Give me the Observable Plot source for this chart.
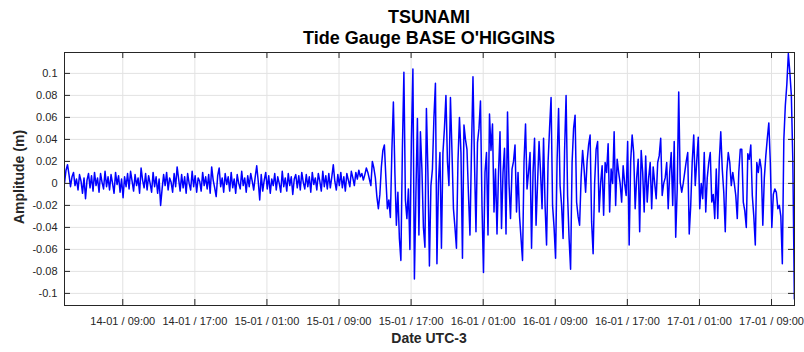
<!DOCTYPE html>
<html><head><meta charset="utf-8">
<script src="https://cdn.jsdelivr.net/npm/d3@7"></script>
<script src="https://cdn.jsdelivr.net/npm/@observablehq/plot@0.6"></script>
<style>
html,body{margin:0;padding:0;background:#fff;}
#wrap{position:relative;width:804px;height:352px;font-family:"Liberation Sans",Arial,sans-serif;color:#000;overflow:hidden;}
#wrap svg{position:absolute;left:0;top:0;}
.t{position:absolute;left:64px;width:730px;text-align:center;font-weight:bold;font-size:18px;line-height:18px;white-space:nowrap;color:#000;}
#ylab{position:absolute;left:19px;top:177px;transform:translate(-50%,-50%) rotate(-90deg);font-weight:bold;font-size:14px;line-height:14px;white-space:nowrap;color:#262626;}
#xlab{position:absolute;left:64px;width:730px;top:331px;text-align:center;font-weight:bold;font-size:14px;line-height:14px;white-space:nowrap;color:#262626;}
</style></head>
<body>
<div id="wrap">
  <div class="t" id="t1" style="top:8px"></div>
  <div class="t" id="t2" style="top:29px"></div>
  <div id="ylab"></div>
  <div id="xlab"></div>
</div>
<script>
// ---- texts ----
const titleLines = ["TSUNAMI", "Tide Gauge BASE O'HIGGINS"];
const yLabel = "Amplitude (m)";
const xLabel = "Date UTC-3";

// ---- time base (UTC-3 local clock, stored as UTC) ----
const startTime = "2022-01-14T02:32:00Z";
const stepMinutes = 10;
const xDomain = ["2022-01-14T02:32:00Z", "2022-01-17T11:33:00Z"];

// ---- tick values ----
const xTickTimes = ["2022-01-14T09:00:00Z","2022-01-14T17:00:00Z","2022-01-15T01:00:00Z","2022-01-15T09:00:00Z","2022-01-15T17:00:00Z","2022-01-16T01:00:00Z","2022-01-16T09:00:00Z","2022-01-16T17:00:00Z","2022-01-17T01:00:00Z","2022-01-17T09:00:00Z"];
const xTickLabels = ["14-01 / 09:00","14-01 / 17:00","15-01 / 01:00","15-01 / 09:00","15-01 / 17:00","16-01 / 01:00","16-01 / 09:00","16-01 / 17:00","17-01 / 01:00","17-01 / 09:00"];
const yTicks = [-0.1,-0.08,-0.06,-0.04,-0.02,0,0.02,0.04,0.06,0.08,0.1];
const yTickLabels = ["-0.1","-0.08","-0.06","-0.04","-0.02","0","0.02","0.04","0.06","0.08","0.1"];
const yDomain = [-0.111, 0.119];

// ---- sea level amplitude, millimetres, one value every 10 minutes ----
const levelMm = [
  0, 12, 17, 8, -3, 6, 10, -2, 4, -6,
  8, 2, -9, 5, -14, 3, 9, -4, 7, -7,
  10, -2, 5, -8, 9, 1, -5, 11, -3, 6,
  -6, 8, 0, -9, 10, -1, 7, -8, 4, -13,
  6, -3, 9, -5, 11, 2, -7, 8, -2, 5,
  -9, 14, 3, -4, 9, -6, 7, 0, -8, 10,
  -3, 6, -9, 4, -20, -5, 8, -2, 10, -6,
  5, 1, -8, 9, -3, 15, 4, -7, 8, -4,
  6, -9, 9, 0, -6, 11, -3, 7, -8, 5,
  2, -7, 10, -2, 6, -5, 8, -9, 15, 3,
  -4, -12, 7, 14, -3, 5, -8, 9, -1, 6,
  -7, 10, -4, 4, -9, 8, 0, -5, 11, -2,
  5, -8, 7, -3, 9, 2, -6, 6, 16, 2,
  -15, 8, -7, 3, 10, -5, 7, -9, 4, -2,
  9, -6, 6, 0, -8, 11, -3, 5, -7, 9,
  -2, 6, -10, 4, 8, -4, 7, -6, 10, 1,
  -5, 8, -3, 6, -8, 10, -1, 5, -6, 9,
  2, -7, 11, -3, 7, -5, 9, -4, 6, 17,
  2, -6, 8, -2, 10, -4, 6, -7, 9, 3,
  -3, 11, 5, -2, 10, 4, 12, 6, 9, 3,
  8, 14, 10, 4, -2, 20, 14, 5, -12, -23,
  -10, 15, 30, 35, 5, -23, -15, -31, 30, 74,
  10, -38, -8, -50, -70, 31, 101, -15, -32, -5,
  -60, 40, 104, -87, -10, 59, -47, 47, 13, -40,
  -58, 68, 10, -75, -2, 13, 60, 91, -73, 0,
  28, -59, 28, 50, 80, 20, -2, 78, 30, -23,
  -40, -59, 20, 60, 28, -68, 53, 40, 31, -10,
  -47, 30, 97, 20, -44, 37, 50, 75, -20, -81,
  10, 28, -47, 63, 30, 54, -26, 13, -46, 10,
  47, -41, 10, 32, -46, 65, 0, -32, 13, 20,
  35, -26, 10, -30, -50, -70, 20, 54, -5, 10,
  28, -59, 10, 41, -38, 0, 38, 10, -23, 41,
  -20, -56, 19, 50, 78, -20, -40, -68, 20, 68,
  -2, -20, -50, 30, 80, -11, -50, -78, 19, 50,
  62, -17, -30, -38, 5, 30, 13, -8, 20, 35,
  44, -35, -64, 0, 31, 38, -26, 0, 16, -29,
  19, 10, 36, -26, 13, 0, 47, -20, 22, 10,
  0, -17, 16, 0, -11, 38, -56, 20, 44, 28,
  -23, 5, 22, -44, 30, 10, -26, 25, -17, 5,
  19, -23, 15, 0, -14, 19, 25, 41, -11, 0,
  5, 19, -23, 10, 28, -20, 38, -49, -5, 83,
  1, -8, 0, 10, 20, 28, -46, -20, 20, 44,
  -2, 20, 42, -23, 0, -14, 28, -26, 5, 19,
  28, -17, -10, -32, 13, -32, 20, 47, 13, -8,
  -44, 10, 28, 19, -2, 10, 0, -11, -32, 10,
  31, 31, -17, -25, -40, 27, 22, 35, -11, -30,
  -56, 19, 10, 22, 13, -38, 5, 25, 41, 55,
  19, -40, -10, -5, -8, -23, -20, -30, -73, 40,
  71, 90, 118, 101, 80, 20, -105
];

// ---- build ----
const t0 = new Date(startTime).getTime();
const series = levelMm.map((mm, i) => ({t: new Date(t0 + i * stepMinutes * 60000), v: mm / 1000}));
const xTicks = xTickTimes.map(s => new Date(s));
const fontFamily = '"Liberation Sans", Arial, sans-serif';
const W = 804, H = 352, mL = 64, mR = 10, mT = 52, mB = 47;
const plotW = W - mL - mR, plotH = H - mT - mB, tick = 6;

document.getElementById("t1").textContent = titleLines[0];
document.getElementById("t2").textContent = titleLines[1];
document.getElementById("ylab").textContent = yLabel;
document.getElementById("xlab").textContent = xLabel;

const chart = Plot.plot({
  width: W, height: H,
  marginTop: mT, marginBottom: mB, marginLeft: mL, marginRight: mR,
  style: {fontFamily, fontSize: "11px", color: "#262626", background: "transparent", overflow: "visible"},
  x: {type: "utc", domain: xDomain.map(s => new Date(s))},
  y: {domain: yDomain},
  marks: [
    Plot.gridX(xTicks, {stroke: "#e2e2e2", strokeOpacity: 1}),
    Plot.gridY(yTicks, {stroke: "#e2e2e2", strokeOpacity: 1}),
    Plot.line(series, {x: "t", y: "v", stroke: "#0000ff", strokeWidth: 1.5, clip: true}),
    Plot.ruleY(yTicks, {y: d => d, insetRight: plotW - tick, stroke: "#262626"}),
    Plot.ruleY(yTicks, {y: d => d, insetLeft: plotW - tick, stroke: "#262626"}),
    Plot.ruleX(xTicks, {x: d => d, insetTop: plotH - tick, stroke: "#262626"}),
    Plot.ruleX(xTicks, {x: d => d, insetBottom: plotH - tick, stroke: "#262626"}),
    Plot.frame({stroke: "#262626"}),
    Plot.axisX(xTicks, {tickSize: 0, tickPadding: 12, label: null, fill: "#262626",
      tickFormat: d => xTickLabels[xTicks.findIndex(x => +x === +d)]}),
    Plot.axisY(yTicks, {tickSize: 0, tickPadding: 7, label: null, fill: "#262626",
      tickFormat: d => yTickLabels[yTicks.indexOf(d)]})
  ]
});
document.getElementById("wrap").insertBefore(chart, document.getElementById("wrap").firstChild);
</script>
</body></html>
